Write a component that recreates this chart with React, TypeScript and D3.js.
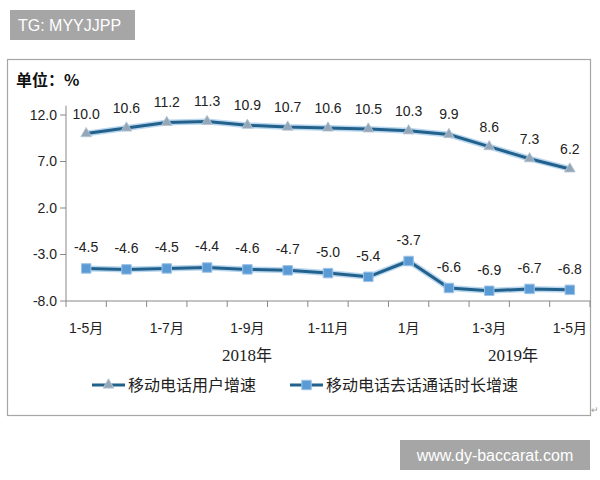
import React from "react";
import * as d3 from "d3";

const categories = ["1-5月", "1-6月", "1-7月", "1-8月", "1-9月", "1-10月", "1-11月", "1-12月", "1月", "1-2月", "1-3月", "1-4月", "1-5月b"];
const shownLabels = ["1-5月", "1-7月", "1-9月", "1-11月", "1月", "1-3月", "1-5月b"];
const userGrowth = [10.0, 10.6, 11.2, 11.3, 10.9, 10.7, 10.6, 10.5, 10.3, 9.9, 8.6, 7.3, 6.2];
const callGrowth = [-4.5, -4.6, -4.5, -4.4, -4.6, -4.7, -5.0, -5.4, -3.7, -6.6, -6.9, -6.7, -6.8];
const yTicks = [12, 7, 2, -3, -8];
const seriesNames = ["移动电话用户增速", "移动电话去话通话时长增速"];

const W = 600, H = 480;
const cjk = "'Noto Sans CJK SC', sans-serif";
const num = "'Liberation Sans', 'Noto Sans CJK SC', sans-serif";

export default function App() {
  const x = d3.scaleBand<string>().domain(categories).range([66, 590]);
  const y = d3.scaleLinear().domain([-8, 13]).range([301, 105.7]);
  const cx = (c: string) => (x(c) as number) + x.bandwidth() / 2;
  const line = d3.line<number>().x((_, i) => cx(categories[i])).y((d) => y(d));
  const tri = d3.symbol().type(d3.symbolTriangle).size(50)();
  const sq = d3.symbol().type(d3.symbolSquare).size(90)();
  const f1 = d3.format(".1f");
  const fmt = (v: number) => f1(v).replace("\u2212", "-");
  const boundaries = categories.map((c) => x(c) as number).concat([590]);

  return (
    <svg width={W} height={H} style={{ position: "absolute", left: 0, top: 0, background: "#fff" }}>
      <rect x={0} y={0} width={W} height={H} fill="#fff" />
      {/* watermark top */}
      <rect x={10} y={10} width={125} height={30} fill="#A6A6A6" />
      <text x={18} y={31} fill="#fff" fontSize={16} fontFamily="'Liberation Sans', Arial, sans-serif">TG: MYYJJPP</text>
      {/* frame */}
      <rect x={7.5} y={59.5} width={583} height={356} fill="#fff" stroke="#A6A6A6" strokeWidth={1.2} />
      <text x={16} y={86} fontSize={16} fontWeight="bold" fontFamily={cjk} fill="#111">单位：%</text>
      {/* y axis */}
      <line x1={66} x2={66} y1={y(13)} y2={y(-8)} stroke="#888" />
      {yTicks.map((t) => (
        <g key={t}>
          <line x1={60} x2={66} y1={y(t)} y2={y(t)} stroke="#888" />
          <text x={57} y={y(t)} dy="0.35em" textAnchor="end" fontSize={14} fontFamily={num} fill="#222">{fmt(t)}</text>
        </g>
      ))}
      {/* x axis */}
      <line x1={66} x2={590} y1={y(-8)} y2={y(-8)} stroke="#888" />
      {boundaries.map((b, i) => (
        <line key={i} x1={b} x2={b} y1={y(-8)} y2={y(-8) + 6} stroke="#888" />
      ))}
      {shownLabels.map((c) => (
        <text key={c} x={cx(c)} y={333} textAnchor="middle" fontSize={14} fontFamily={num} fill="#222">{c.replace("b", "")}</text>
      ))}
      <text x={247} y={361} textAnchor="middle" fontSize={17} fontFamily="'Liberation Serif', 'Noto Sans CJK SC', serif" fill="#222">2018<tspan fontFamily={cjk} fontSize={16}>年</tspan></text>
      <text x={513} y={361} textAnchor="middle" fontSize={17} fontFamily="'Liberation Serif', 'Noto Sans CJK SC', serif" fill="#222">2019<tspan fontFamily={cjk} fontSize={16}>年</tspan></text>
      {/* series lines */}
      {[userGrowth, callGrowth].map((s, k) => (
        <g key={k}>
          <path d={line(s) || ""} fill="none" stroke="#A9CDEB" strokeWidth={6} strokeLinejoin="round" opacity={0.8} />
          <path d={line(s) || ""} fill="none" stroke="#22618C" strokeWidth={3} strokeLinejoin="round" />
        </g>
      ))}
      {userGrowth.map((v, i) => (
        <path key={"t" + i} d={tri || ""} transform={`translate(${cx(categories[i])},${y(v)})`} fill="#93A7B9" stroke="#B8C7D4" strokeWidth={0.8} />
      ))}
      {callGrowth.map((v, i) => (
        <path key={"s" + i} d={sq || ""} transform={`translate(${cx(categories[i])},${y(v)})`} fill="#5B9BD5" stroke="#9DC3E6" strokeWidth={1} />
      ))}
      {/* data labels */}
      {userGrowth.map((v, i) => (
        <text key={"lu" + i} x={cx(categories[i])} y={y(v) - 20} dy="0.35em" textAnchor="middle" fontSize={14} fontFamily={num} fill="#222">{fmt(v)}</text>
      ))}
      {callGrowth.map((v, i) => (
        <text key={"lc" + i} x={cx(categories[i])} y={y(v) - 21} dy="0.35em" textAnchor="middle" fontSize={14} fontFamily={num} fill="#222">{fmt(v)}</text>
      ))}
      {/* legend */}
      {seriesNames.map((n, k) => {
        const lx = k === 0 ? 92 : 290;
        return (
          <g key={n}>
            <line x1={lx} x2={lx + 33} y1={385} y2={385} stroke="#22618C" strokeWidth={3} />
            <path d={(k === 0 ? tri : sq) || ""} transform={`translate(${lx + 16.5},385)`} fill={k === 0 ? "#93A7B9" : "#5B9BD5"} stroke={k === 0 ? "#B8C7D4" : "#9DC3E6"} />
            <text x={lx + 36} y={385} dy="0.36em" fontSize={16} fontFamily={cjk} fill="#222">{n}</text>
          </g>
        );
      })}
      <text x={591} y={413} fontSize={9} fill="#999" fontFamily={cjk}>↵</text>
      {/* watermark bottom */}
      <rect x={400} y={440} width={190} height={30} fill="#A6A6A6" />
      <text x={495} y={461} textAnchor="middle" fill="#fff" fontSize={16} fontFamily="'Liberation Sans', Arial, sans-serif">www.dy-baccarat.com</text>
    </svg>
  );
}
